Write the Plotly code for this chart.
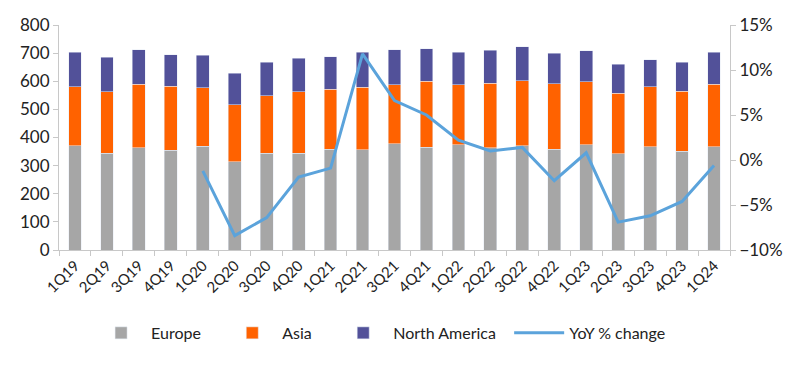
import plotly.graph_objects as go

quarters = ["1Q19","2Q19","3Q19","4Q19","1Q20","2Q20","3Q20","4Q20","1Q21","2Q21","3Q21",
            "4Q21","1Q22","2Q22","3Q22","4Q22","1Q23","2Q23","3Q23","4Q23","1Q24"]
europe = [371,344,363,354,369,314,344,344,358,356,377,366,375,364,371,359,375,342,367,351,367]
asia = [209,218,226,229,208,203,205,219,214,222,210,234,212,229,230,232,224,215,213,213,222]
north_america = [123,124,123,112,115,112,119,119,115,125,125,115,116,117,121,108,110,104,97,103,115]
yoy_pct = [None,None,None,None,-1.2,-8.4,-6.4,-1.9,-0.9,11.8,6.6,5.0,2.2,1.0,1.4,-2.3,0.8,-6.9,-6.2,-4.6,-0.6]

font_family = "Lato, 'Noto Sans', sans-serif"
txt = "#222222"
axis_col = "#c8c8c8"

fig = go.Figure()
fig.add_trace(go.Bar(x=quarters, y=europe, name="Europe    ", marker_color="#a6a6a6"))
fig.add_trace(go.Bar(x=quarters, y=asia, name="Asia    ", marker_color="#ff6200"))
fig.add_trace(go.Bar(x=quarters, y=north_america, name="North America  ", marker_color="#525199"))
fig.add_trace(go.Scatter(x=quarters, y=yoy_pct, name="YoY % change", mode="lines",
                         line=dict(color="#5ba3db", width=3), yaxis="y2"))

fig.update_layout(
    width=800, height=368,
    barmode="stack", bargap=0.6,
    plot_bgcolor="white", paper_bgcolor="white",
    margin=dict(l=51, r=78, t=17, b=126, autoexpand=False),
    font=dict(family=font_family, size=16, color=txt),
    xaxis=dict(type="category", tickangle=-45, showline=True, linecolor=axis_col,
               ticks="outside", tickson="boundaries", ticklen=5, tickcolor=axis_col,
               tickfont=dict(size=15), showgrid=False, automargin=False),
    yaxis=dict(range=[0, 800], dtick=100, showline=True, linecolor=axis_col,
               ticks="outside", ticklen=5, tickcolor=axis_col, showgrid=False,
               zeroline=False, automargin=False, tickfont=dict(size=17)),
    yaxis2=dict(range=[-10, 15], dtick=5, ticksuffix="%", overlaying="y", side="right",
                showline=True, linecolor=axis_col, ticks="outside", ticklen=5,
                tickcolor=axis_col, showgrid=False, zeroline=False, automargin=False,
                tickfont=dict(size=17)),
    legend=dict(orientation="h", x=0.48, xanchor="center", yref="container", y=0.117,
                yanchor="middle", font=dict(size=16), traceorder="normal", itemwidth=50),
    showlegend=True,
)

fig.write_html("out.html")
